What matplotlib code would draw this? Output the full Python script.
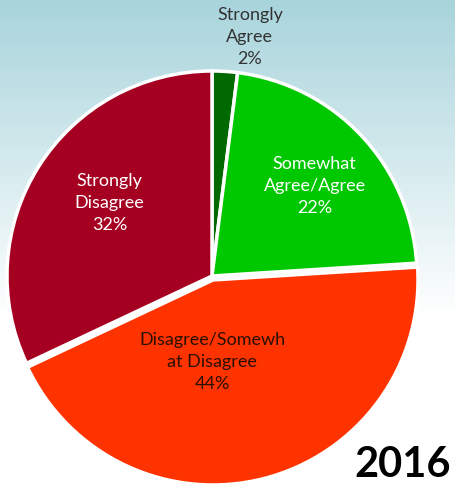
import numpy as np
import matplotlib.pyplot as plt
from matplotlib.colors import LinearSegmentedColormap

# Survey answers (2016)
categories = ["Strongly\nAgree", "Somewhat\nAgree/Agree", "Disagree/Somewh\nat Disagree", "Strongly\nDisagree"]
shares = [2, 22, 44, 32]
colors = ["#006A00", "#00C800", "#FF3300", "#A50021"]
year = "2016"

plt.rcParams['font.family'] = ['Lato', 'DejaVu Sans']

fig = plt.figure(figsize=(4.55, 4.89), dpi=100)

# Background gradient: light teal on top fading to white
bg = fig.add_axes([0, 0, 1, 1])
bg.set_axis_off()
grad = np.linspace(0, 1, 256).reshape(-1, 1)
cmap = LinearSegmentedColormap.from_list("bg", [(0, "#A8D4DC"), (0.65, "#FFFFFF"), (1, "#FFFFFF")])
bg.imshow(grad, aspect='auto', cmap=cmap, extent=[0, 1, 0, 1], origin='upper')
bg.set_xlim(0, 1)
bg.set_ylim(0, 1)

ax = fig.add_axes([7 / 455, 7 / 489, 410 / 455, 410 / 489])
wedges, _ = ax.pie(shares, colors=colors, startangle=90, counterclock=False,
                   explode=[0, 0, 0.02, 0],
                   wedgeprops=dict(edgecolor='white', linewidth=2.5))
for w in wedges:
    w.set_clip_on(False)
ax.set_xlim(-1, 1)
ax.set_ylim(-1, 1)
ax.set_aspect('equal')
ax.set_axis_off()

pct = [f"{s}%" for s in shares]
label_pos = [(0.185, 1.17), (0.50, 0.445), (0.0, -0.415), (-0.50, 0.36)]
text_colors = ["#333333", "white", "#2A1000", "white"]
for (x, y), cat, p, c in zip(label_pos, categories, pct, text_colors):
    ax.text(x, y, f"{cat}\n{p}", ha='center', va='center', fontsize=13,
            color=c, linespacing=1.48, clip_on=False)

fig.text(403 / 455, 1 - 465 / 489, year, ha='center', va='center',
         fontsize=30, fontweight='bold', color='black')

fig.savefig("out.png", dpi=100)
